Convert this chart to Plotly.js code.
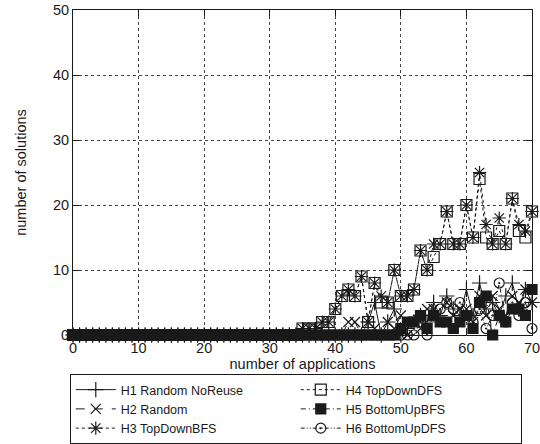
<!DOCTYPE html>
<html>
<head>
<meta charset="utf-8">
<script src="https://cdn.plot.ly/plotly-3.0.1.min.js"></script>
<style>html,body{margin:0;padding:0;background:#fff;}#chart{width:540px;height:444px;}</style>
</head>
<body>
<div id="chart"></div>
<script>
// number of applications
const applications = [0,1,2,3,4,5,6,7,8,9,10,11,12,13,14,15,16,17,18,19,20,21,22,23,24,25,26,27,28,29,30,31,32,33,34,
  35,36,37,38,39,40,41,42,43,44,45,46,47,48,49,50,51,52,53,54,55,56,57,58,59,60,61,62,63,64,65,66,67,68,69,70];

// number of solutions per heuristic (x = 0..34 are all zero)
const h1RandomNoReuse = [0,0,0,0,0,0,0,0,0,0,0,0,0,0,0,0,0,0,0,0,0,0,0,0,0,0,0,0,0,0,0,0,0,0,0,
  0,0,0,0,0,0,0,0,0,0,2,5,0,2,4,0,1,2,3,2,5,3,6,4,3,7,3,8,4,5,3,6,8,4,7,5];
const h2Random = [0,0,0,0,0,0,0,0,0,0,0,0,0,0,0,0,0,0,0,0,0,0,0,0,0,0,0,0,0,0,0,0,0,0,0,
  0,0,0,0,0,0,0,2,2,0,0,1,0,2,1,3,0,2,1,4,4,2,5,3,4,4,2,6,3,6,4,3,6,5,7,5];
const h3TopDownBFS = [0,0,0,0,0,0,0,0,0,0,0,0,0,0,0,0,0,0,0,0,0,0,0,0,0,0,0,0,0,0,0,0,0,0,0,
  1,1,1,2,2,4,6,7,6,9,2,8,6,5,10,6,6,7,13,10,14,14,19,14,14,20,15,25,17,14,18,14,21,17,16,19];
const h4TopDownDFS = [0,0,0,0,0,0,0,0,0,0,0,0,0,0,0,0,0,0,0,0,0,0,0,0,0,0,0,0,0,0,0,0,0,0,0,
  1,1,1,2,2,4,6,7,6,9,2,8,5,5,10,6,6,7,13,10,12,14,19,14,14,20,15,24,15,14,16,14,21,16,15,19];
const h5BottomUpBFS = [0,0,0,0,0,0,0,0,0,0,0,0,0,0,0,0,0,0,0,0,0,0,0,0,0,0,0,0,0,0,0,0,0,0,0,
  0,0,0,0,0,0,0,0,0,0,0,0,0,0,0,1,2,2,3,1,3,2,2,1,2,3,1,5,6,0,3,2,4,4,3,7];
const h6BottomUpDFS = [0,0,0,0,0,0,0,0,0,0,0,0,0,0,0,0,0,0,0,0,0,0,0,0,0,0,0,0,0,0,0,0,0,0,0,
  0,0,0,0,0,0,0,0,0,0,0,0,0,0,0,0,0,0,2,0,3,4,5,4,5,3,2,4,1,3,8,2,5,3,5,1];

const seriesNames = ['H1 Random NoReuse','H2 Random','H3 TopDownBFS','H4 TopDownDFS','H5 BottomUpBFS','H6 BottomUpDFS'];
const xTicks = [0,10,20,30,40,50,60,70];
const yTicks = [0,10,20,30,40,50];

const ink = '#1a1a1a';
function tr(name, y, symbol, dash, size, rank) {
  return {
    x: applications, y: y, name: name, type: 'scatter', mode: 'lines+markers',
    cliponaxis: false, legendrank: rank,
    line: {color: ink, width: 1, dash: dash},
    marker: {symbol: symbol, size: size, color: ink, line: {color: ink, width: 1.2}}
  };
}

const data = [
  tr(seriesNames[0], h1RandomNoReuse, 'cross-thin-open', 'solid', 11, 1),
  tr(seriesNames[1], h2Random, 'x-thin-open', 'dash', 10, 3),
  tr(seriesNames[2], h3TopDownBFS, 'asterisk-open', '3px,3px', 11, 5),
  tr(seriesNames[3], h4TopDownDFS, 'square-open', 'dot', 11, 2),
  tr(seriesNames[4], h5BottomUpBFS, 'square', '5px,3px,1px,3px', 10, 4),
  tr(seriesNames[5], h6BottomUpDFS, 'circle-open-dot', '4px,2px,1px,2px,1px,2px', 10, 6)
];

const fam = 'Liberation Sans, Arial, sans-serif';
const axisCommon = {
  showline: true, linecolor: ink, linewidth: 1, mirror: 'allticks',
  ticks: 'inside', ticklen: 6, tickcolor: ink, ticklabeloverflow: 'allow',
  showgrid: true, gridcolor: '#444', griddash: 'dot', gridwidth: 1,
  zeroline: false, tickfont: {family: fam, size: 14.5, color: ink}
};

const layout = {
  width: 540, height: 444,
  margin: {l: 73, r: 8, t: 10, b: 109, autoexpand: false},
  paper_bgcolor: '#fff', plot_bgcolor: '#fff',
  font: {family: fam, size: 14.5, color: ink},
  xaxis: Object.assign({}, axisCommon, {
    range: [0, 70], tickvals: xTicks,
    title: {text: 'number of applications', standoff: 3, font: {size: 14.5}}
  }),
  yaxis: Object.assign({}, axisCommon, {
    range: [0, 50], tickvals: yTicks,
    title: {text: 'number of solutions', standoff: 22, font: {size: 14.5}}
  }),
  showlegend: true,
  legend: {
    orientation: 'h', x: -0.007, xanchor: 'left', y: -0.12, yanchor: 'top',
    bordercolor: ink, borderwidth: 1, bgcolor: '#fff',
    entrywidth: 170, entrywidthmode: 'pixels', itemwidth: 40,
    font: {size: 12.5, color: ink}, tracegroupgap: 0
  }
};

Plotly.newPlot('chart', data, layout, {displayModeBar: false, staticPlot: true});
</script>
</body>
</html>
